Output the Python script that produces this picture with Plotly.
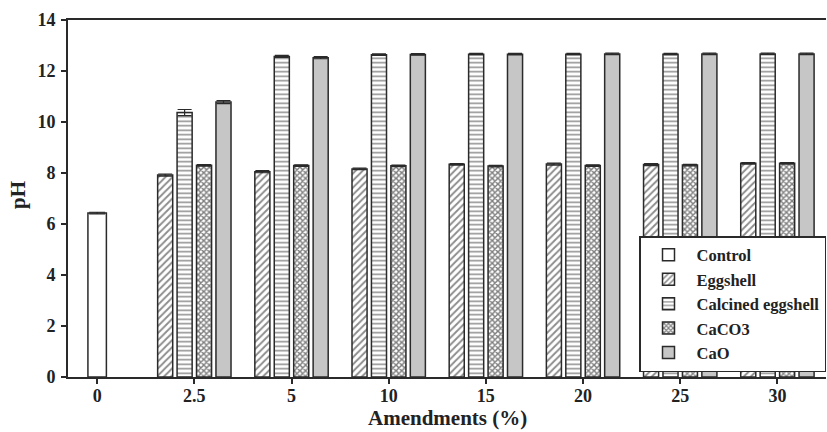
import plotly.graph_objects as go

categories = ["0", "2.5", "5", "10", "15", "20", "25", "30"]
amend_cats = categories[1:]

control_vals = [6.43]
control_err = [0.03]

eggshell_vals = [7.92, 8.05, 8.16, 8.34, 8.35, 8.33, 8.38]
eggshell_err = [0.04, 0.04, 0.03, 0.03, 0.04, 0.04, 0.03]

calcined_vals = [10.37, 12.57, 12.64, 12.66, 12.66, 12.66, 12.67]
calcined_err = [0.12, 0.04, 0.03, 0.03, 0.03, 0.03, 0.03]

caco3_vals = [8.30, 8.29, 8.28, 8.27, 8.29, 8.31, 8.38]
caco3_err = [0.03, 0.03, 0.03, 0.03, 0.03, 0.03, 0.03]

cao_vals = [10.78, 12.52, 12.65, 12.66, 12.67, 12.67, 12.67]
cao_err = [0.06, 0.04, 0.03, 0.03, 0.03, 0.03, 0.03]

y_ticks = [0, 2, 4, 6, 8, 10, 12, 14]

FONT = "Liberation Serif"
LINE = "#2a2a2a"
TXT = "#222"
bw = 0.155
step = 0.2
start = -(3 * step + bw) / 2

fig = go.Figure()

fig.add_trace(go.Bar(
    name="Control", x=categories[:1], y=control_vals,
    width=0.19, offset=-0.095,
    marker=dict(color="white", line=dict(color=LINE, width=1.5)),
    error_y=dict(type="data", array=control_err, color=LINE, thickness=1.2, width=8),
))

series = [
    ("Eggshell", eggshell_vals, eggshell_err,
     dict(color="white", pattern=dict(shape="/", fgcolor="#1a1a1a", bgcolor="white", size=5, solidity=0.38))),
    ("Calcined eggshell", calcined_vals, calcined_err,
     dict(color="white", pattern=dict(shape="-", fgcolor="#222", bgcolor="white", size=4.5, solidity=0.35))),
    ("CaCO3", caco3_vals, caco3_err,
     dict(color="white", pattern=dict(shape="x", fgcolor="#000", bgcolor="white", size=4, solidity=0.6))),
    ("CaO", cao_vals, cao_err, dict(color="#c6c6c6")),
]

for i, (name, vals, errs, mk) in enumerate(series):
    mk = dict(mk)
    mk["line"] = dict(color=LINE, width=1.5)
    fig.add_trace(go.Bar(
        name=name, x=amend_cats, y=vals,
        width=bw, offset=start + i * step,
        marker=mk,
        error_y=dict(type="data", array=errs, color=LINE, thickness=1.2, width=7),
    ))

fig.update_layout(
    width=827, height=432,
    margin=dict(l=68, r=1, t=20, b=55, autoexpand=False),
    paper_bgcolor="white", plot_bgcolor="white",
    barmode="overlay",
    font=dict(family=FONT, color=TXT, size=18, weight="bold"),
    showlegend=True,
    legend=dict(
        x=1, y=0.014, xanchor="right", yanchor="bottom",
        bgcolor="white", bordercolor=LINE, borderwidth=1.5,
        font=dict(family=FONT, size=16.5, color=TXT, weight="bold"),
        itemwidth=46, tracegroupgap=0,
    ),
    annotations=[
        dict(text="Amendments (%)", xref="paper", yref="paper", x=0.5, y=-0.115,
             xanchor="center", yanchor="middle", showarrow=False,
             font=dict(family=FONT, size=21, weight="bold", color=TXT)),
        dict(text="pH", xref="paper", yref="paper", x=-0.066, y=0.51,
             xanchor="center", yanchor="middle", showarrow=False, textangle=-90,
             font=dict(family=FONT, size=21, weight="bold", color=TXT)),
    ],
)

fig.update_xaxes(
    type="category", categoryorder="array", categoryarray=categories,
    range=[-0.3, 7.5], automargin=False,
    showline=True, linecolor=LINE, linewidth=2, mirror=True,
    ticks="outside", ticklen=5, tickcolor=LINE, tickwidth=1.5,
    ticklabelstandoff=-4,
    tickfont=dict(family=FONT, size=18, weight="bold", color=TXT),
    showgrid=False,
)
fig.update_yaxes(
    range=[0, 14], tickvals=y_ticks, automargin=False,
    showline=True, linecolor=LINE, linewidth=2,
    ticks="outside", ticklen=5, tickcolor=LINE, tickwidth=1.5,
    ticklabelstandoff=2,
    tickfont=dict(family=FONT, size=18, weight="bold", color=TXT),
    showgrid=False, zeroline=False,
)

fig.write_html(
    "out.html",
    config={"displayModeBar": False},
    post_script="document.body.style.margin='0';document.body.style.padding='0';",
)
